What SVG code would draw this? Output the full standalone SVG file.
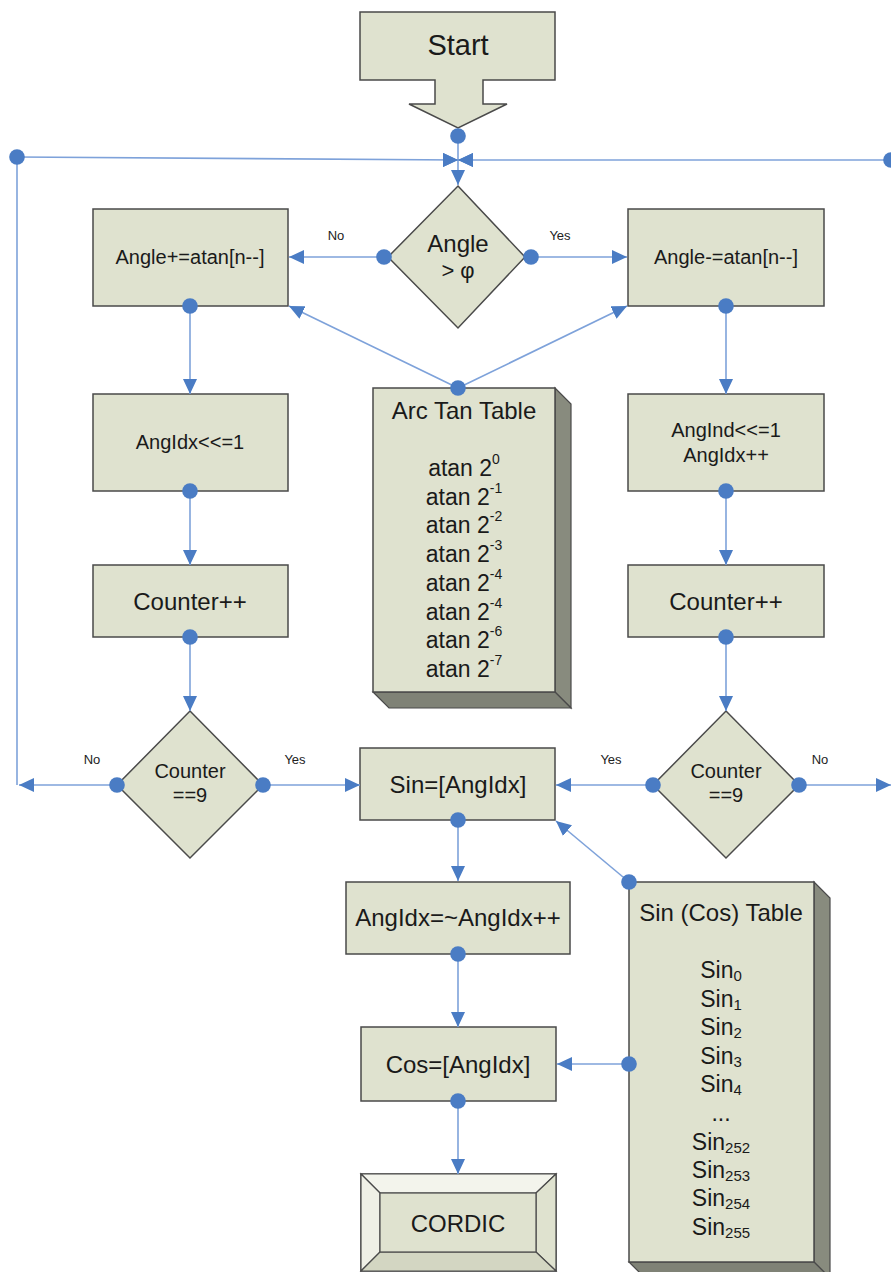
<svg xmlns="http://www.w3.org/2000/svg" width="891" height="1272" viewBox="0 0 891 1272">
<defs>
<style>
.box{fill:#dfe2cf;stroke:#4a4a4a;stroke-width:1.5}
.side{fill:#888b7e;stroke:#4a4a4a;stroke-width:1.2}
.bot{fill:#7f8276;stroke:#4a4a4a;stroke-width:1.2}
.t{font-family:"Liberation Sans",Arial,sans-serif;fill:#1a1a1a;text-anchor:middle;dominant-baseline:central}
.s20{font-size:20px}
.s24{font-size:24px}
.lbl{font-family:"Liberation Sans",Arial,sans-serif;font-size:13px;fill:#222;text-anchor:middle;dominant-baseline:central}
.ln{stroke:#7ea2da;stroke-width:1.6;fill:none}
.ar{stroke:#7ea2da;stroke-width:1.6;fill:none;marker-end:url(#arr)}
.dot{fill:#4a7cc4}
</style>
<marker id="arr" markerUnits="userSpaceOnUse" markerWidth="15" markerHeight="14" refX="15" refY="7" orient="auto" viewBox="0 0 15 14">
<path d="M0,0 L15,7 L0,14 Z" fill="#4a7cc4"/>
</marker>
</defs>
<rect width="891" height="1272" fill="#ffffff"/>

<g id="start">
<path class="box" d="M360,12 H555 V80 H483 V104 H507 L458,128 L409,104 H435 V80 H360 Z"/>
<text class="t" x="458" y="45" font-size="29">Start</text>
</g>

<g id="decision-angle">
<path class="box" d="M458,186 L525,257 L458,328 L388,257 Z"/>
<text class="t s24" x="458" y="243">Angle</text>
<text class="t" font-size="22" x="458" y="270">&gt; φ</text>
</g>

<g id="angle-plus">
<rect class="box" x="93" y="209" width="195" height="97"/>
<text class="t s20" x="190" y="257">Angle+=atan[n--]</text>
</g>

<g id="angle-minus">
<rect class="box" x="628" y="209" width="196" height="97"/>
<text class="t s20" x="726" y="257">Angle-=atan[n--]</text>
</g>

<g id="angidx-shift">
<rect class="box" x="93" y="394" width="195" height="97"/>
<text class="t s20" x="190" y="442">AngIdx&lt;&lt;=1</text>
</g>

<g id="angind-shift">
<rect class="box" x="628" y="394" width="196" height="97"/>
<text class="t s20" x="726" y="430">AngInd&lt;&lt;=1</text>
<text class="t s20" x="726" y="455">AngIdx++</text>
</g>

<g id="counter-left">
<rect class="box" x="93" y="565" width="195" height="72"/>
<text class="t s24" x="190" y="601">Counter++</text>
</g>

<g id="counter-right">
<rect class="box" x="628" y="565" width="196" height="72"/>
<text class="t s24" x="726" y="601">Counter++</text>
</g>

<g id="decision-counter-left">
<path class="box" d="M190,711 L263,785 L190,858 L117,785 Z"/>
<text class="t s20" x="190" y="771">Counter</text>
<text class="t s20" x="190" y="795">==9</text>
</g>

<g id="decision-counter-right">
<path class="box" d="M726,711 L799,785 L726,858 L653,785 Z"/>
<text class="t s20" x="726" y="771">Counter</text>
<text class="t s20" x="726" y="795">==9</text>
</g>

<g id="arctan-table">
<path class="side" d="M555,388 L571,404 L571,708 L555,692 Z"/>
<path class="bot" d="M373,692 L555,692 L571,708 L389,708 Z"/>
<rect class="box" x="373" y="388" width="182" height="304"/>
<text class="t s24" x="464" y="410">Arc Tan Table</text>
<text class="t" font-size="23" x="464" y="468">atan 2<tspan font-size="14" dy="-9">0</tspan></text>
<text class="t" font-size="23" x="464" y="497">atan 2<tspan font-size="14" dy="-9">-1</tspan></text>
<text class="t" font-size="23" x="464" y="525">atan 2<tspan font-size="14" dy="-9">-2</tspan></text>
<text class="t" font-size="23" x="464" y="554">atan 2<tspan font-size="14" dy="-9">-3</tspan></text>
<text class="t" font-size="23" x="464" y="583">atan 2<tspan font-size="14" dy="-9">-4</tspan></text>
<text class="t" font-size="23" x="464" y="612">atan 2<tspan font-size="14" dy="-9">-4</tspan></text>
<text class="t" font-size="23" x="464" y="640">atan 2<tspan font-size="14" dy="-9">-6</tspan></text>
<text class="t" font-size="23" x="464" y="669">atan 2<tspan font-size="14" dy="-9">-7</tspan></text>
</g>

<g id="sin-assign">
<rect class="box" x="360" y="748" width="195" height="72"/>
<text class="t s24" x="458" y="784">Sin=[AngIdx]</text>
</g>

<g id="angidx-invert">
<rect class="box" x="346" y="882" width="224" height="72"/>
<text class="t s24" x="458" y="917">AngIdx=~AngIdx++</text>
</g>

<g id="cos-assign">
<rect class="box" x="361" y="1027" width="195" height="74"/>
<text class="t s24" x="458" y="1064">Cos=[AngIdx]</text>
</g>

<g id="cordic">
<rect x="361" y="1174" width="195" height="97" fill="#dfe2cf" stroke="#4a4a4a" stroke-width="1.5"/>
<path d="M361,1174 L556,1174 L536,1193 L380,1193 Z" fill="#f3f4ec" stroke="#4a4a4a" stroke-width="1.2"/>
<path d="M361,1174 L380,1193 L380,1252 L361,1271 Z" fill="#eff0e6" stroke="#4a4a4a" stroke-width="1.2"/>
<path d="M556,1174 L556,1271 L536,1252 L536,1193 Z" fill="#dfe2cf" stroke="#4a4a4a" stroke-width="1.2"/>
<path d="M361,1271 L380,1252 L536,1252 L556,1271 Z" fill="#d3d6c2" stroke="#4a4a4a" stroke-width="1.2"/>
<rect x="380" y="1193" width="156" height="59" fill="#dfe2cf" stroke="#4a4a4a" stroke-width="1.2"/>
<text class="t s24" x="458" y="1223">CORDIC</text>
</g>

<g id="sin-table">
<path class="side" d="M814,882 L830,898 L830,1278 L814,1262 Z"/>
<path class="bot" d="M629,1262 L814,1262 L830,1278 L645,1278 Z"/>
<rect class="box" x="629" y="882" width="185" height="380"/>
<text class="t s24" x="721" y="912">Sin (Cos) Table</text>
<text class="t" font-size="23" x="721" y="970">Sin<tspan font-size="15" dy="5">0</tspan></text>
<text class="t" font-size="23" x="721" y="999">Sin<tspan font-size="15" dy="5">1</tspan></text>
<text class="t" font-size="23" x="721" y="1027">Sin<tspan font-size="15" dy="5">2</tspan></text>
<text class="t" font-size="23" x="721" y="1056">Sin<tspan font-size="15" dy="5">3</tspan></text>
<text class="t" font-size="23" x="721" y="1084">Sin<tspan font-size="15" dy="5">4</tspan></text>
<text class="t" font-size="23" x="721" y="1113">...</text>
<text class="t" font-size="23" x="721" y="1142">Sin<tspan font-size="15" dy="5">252</tspan></text>
<text class="t" font-size="23" x="721" y="1170">Sin<tspan font-size="15" dy="5">253</tspan></text>
<text class="t" font-size="23" x="721" y="1198">Sin<tspan font-size="15" dy="5">254</tspan></text>
<text class="t" font-size="23" x="721" y="1227">Sin<tspan font-size="15" dy="5">255</tspan></text>
</g>

<g id="connectors">
<line class="ar" x1="458" y1="136" x2="458" y2="185"/>
<polyline class="ar" points="17,157 458,160"/>
<line class="ar" x1="891" y1="160" x2="458" y2="160"/>
<line class="ln" x1="17" y1="157" x2="17" y2="785"/>
<line class="ar" x1="384" y1="257" x2="289" y2="257"/>
<line class="ar" x1="531" y1="257" x2="627" y2="257"/>
<line class="ar" x1="458" y1="388" x2="289" y2="306"/>
<line class="ar" x1="458" y1="388" x2="627" y2="306"/>
<line class="ar" x1="190" y1="306" x2="190" y2="394"/>
<line class="ar" x1="190" y1="491" x2="190" y2="565"/>
<line class="ar" x1="190" y1="637" x2="190" y2="711"/>
<line class="ar" x1="726" y1="306" x2="726" y2="394"/>
<line class="ar" x1="726" y1="491" x2="726" y2="565"/>
<line class="ar" x1="726" y1="637" x2="726" y2="711"/>
<line class="ar" x1="117" y1="785" x2="19" y2="785"/>
<line class="ar" x1="263" y1="785" x2="360" y2="785"/>
<line class="ar" x1="653" y1="785" x2="556" y2="785"/>
<line class="ar" x1="799" y1="785" x2="891" y2="785"/>
<line class="ar" x1="458" y1="820" x2="458" y2="881"/>
<line class="ar" x1="629" y1="882" x2="556" y2="821"/>
<line class="ar" x1="458" y1="954" x2="458" y2="1027"/>
<line class="ar" x1="629" y1="1064" x2="557" y2="1064"/>
<line class="ar" x1="458" y1="1101" x2="458" y2="1174"/>
<path d="M443,153 L458,160 L443,167 Z M473,153 L458,160 L473,167 Z" fill="#4a7cc4"/>
<g class="dot">
<circle cx="458" cy="136" r="7.8"/>
<circle cx="17" cy="157" r="7.8"/>
<circle cx="891" cy="160" r="7.8"/>
<circle cx="384" cy="257" r="7.8"/>
<circle cx="531" cy="257" r="7.8"/>
<circle cx="458" cy="388" r="7.8"/>
<circle cx="190" cy="306" r="7.8"/>
<circle cx="190" cy="491" r="7.8"/>
<circle cx="190" cy="637" r="7.8"/>
<circle cx="726" cy="306" r="7.8"/>
<circle cx="726" cy="491" r="7.8"/>
<circle cx="726" cy="637" r="7.8"/>
<circle cx="117" cy="785" r="7.8"/>
<circle cx="263" cy="785" r="7.8"/>
<circle cx="653" cy="785" r="7.8"/>
<circle cx="799" cy="785" r="7.8"/>
<circle cx="458" cy="820" r="7.8"/>
<circle cx="629" cy="882" r="7.8"/>
<circle cx="458" cy="954" r="7.8"/>
<circle cx="629" cy="1064" r="7.8"/>
<circle cx="458" cy="1101" r="7.8"/>
</g>
<text class="lbl" x="336" y="235">No</text>
<text class="lbl" x="560" y="235">Yes</text>
<text class="lbl" x="92" y="759">No</text>
<text class="lbl" x="295" y="759">Yes</text>
<text class="lbl" x="611" y="759">Yes</text>
<text class="lbl" x="820" y="759">No</text>
</g>
</svg>
